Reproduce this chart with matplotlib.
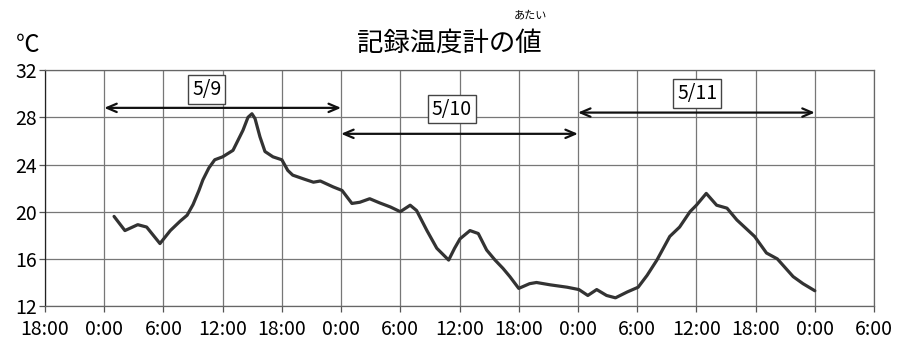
import matplotlib
matplotlib.use("Agg")
import matplotlib.pyplot as plt

plt.rcParams['font.family'] = ['Noto Sans CJK JP', 'DejaVu Sans']

# hours counted from 18:00 on 5/8
hours = [7.0, 8.1, 9.4, 10.3, 11.65, 12.7, 13.7, 14.4, 15.0, 15.6, 16.0, 16.6, 17.2,
         18.0, 19.05, 20.06, 20.57, 20.97, 21.28, 21.78, 22.29, 23.1, 24.0, 24.6,
         25.1, 26.3, 27.2, 27.9, 29.2, 30.1, 31.1, 31.9, 32.9, 33.9, 35.0, 36.0,
         37.0, 37.65, 38.7, 39.7, 40.9, 41.5, 42.05, 43.06, 43.9, 44.75, 45.6, 46.4,
         47.1, 48.0, 49.1, 49.8, 51.2, 52.9, 54.1, 55.0, 55.9, 56.9, 57.8, 59.0,
         60.1, 61.0, 62.0, 63.3, 64.3, 65.35, 66.0, 67.0, 68.05, 69.1, 70.1, 71.9,
         73.1, 74.2, 75.8, 76.8, 78.0]
temps = [19.6, 18.4, 18.9, 18.7, 17.3, 18.4, 19.2, 19.7, 20.6, 21.8, 22.7, 23.7, 24.4,
         24.65, 25.2, 26.9, 28.0, 28.3, 27.9, 26.35, 25.1, 24.65, 24.4, 23.5,
         23.1, 22.75, 22.5, 22.6, 22.1, 21.8, 20.7, 20.8, 21.1, 20.75, 20.4, 20.0,
         20.55, 20.1, 18.4, 16.9, 15.9, 16.9, 17.7, 18.4, 18.15, 16.75, 15.9, 15.2,
         14.5, 13.5, 13.9, 14.0, 13.8, 13.6, 13.4, 12.9, 13.4, 12.9, 12.7, 13.2,
         13.6, 14.6, 15.9, 17.9, 18.7, 20.0, 20.55, 21.55, 20.55, 20.3, 19.3, 17.9,
         16.5, 16.0, 14.5, 13.9, 13.3]

tick_hours = list(range(0, 85, 6))
tick_labels = ['18:00', '0:00', '6:00', '12:00', '18:00', '0:00', '6:00', '12:00',
               '18:00', '0:00', '6:00', '12:00', '18:00', '0:00', '6:00']
y_ticks = [12, 16, 20, 24, 28, 32]

days = ['5/9', '5/10', '5/11']
day_start = [6, 30, 54]
day_end = [30, 54, 78]
arrow_y = [28.8, 26.6, 28.4]
label_x = [16.4, 41.2, 66.1]
label_y = [30.35, 28.7, 30.0]

fig = plt.figure(figsize=(9.14, 3.42), dpi=100)
ax = fig.add_axes([0.0492, 0.105, 0.9071, 0.690])

ax.plot(hours, temps, color='#333333', lw=2.3, solid_capstyle='round',
        solid_joinstyle='round', zorder=3)

ax.set_xlim(0, 84)
ax.set_ylim(12, 32)
ax.set_xticks(tick_hours)
ax.set_xticklabels(tick_labels)
ax.set_yticks(y_ticks)
ax.tick_params(labelsize=14, length=4, width=0.9, color='#555555')
ax.tick_params(axis='x', pad=5)
ax.tick_params(axis='y', pad=2)
ax.grid(True, color='#777777', lw=0.9)
for s in ax.spines.values():
    s.set_color('#666666')
    s.set_linewidth(0.9)
ax.spines['left'].set_color('#222222')

for d, x0, x1, ya, lx, ly in zip(days, day_start, day_end, arrow_y, label_x, label_y):
    ax.annotate('', xy=(x1, ya), xytext=(x0, ya),
                arrowprops=dict(arrowstyle='<->,head_length=0.7,head_width=0.3',
                                lw=1.6, color='#111111', shrinkA=0, shrinkB=0),
                zorder=4)
    ax.text(lx, ly, d, fontsize=14, ha='center', va='center', zorder=5,
            bbox=dict(boxstyle='square,pad=0.2', fc='white', ec='#444444', lw=1))

fig.text(0.492, 0.874, '記録温度計の値', fontsize=19, ha='center', va='center')
fig.text(0.58, 0.956, 'あたい', fontsize=8, ha='center', va='center')
fig.text(0.030, 0.868, '℃', fontsize=17, ha='center', va='center')

fig.savefig('out.png', dpi=100)
